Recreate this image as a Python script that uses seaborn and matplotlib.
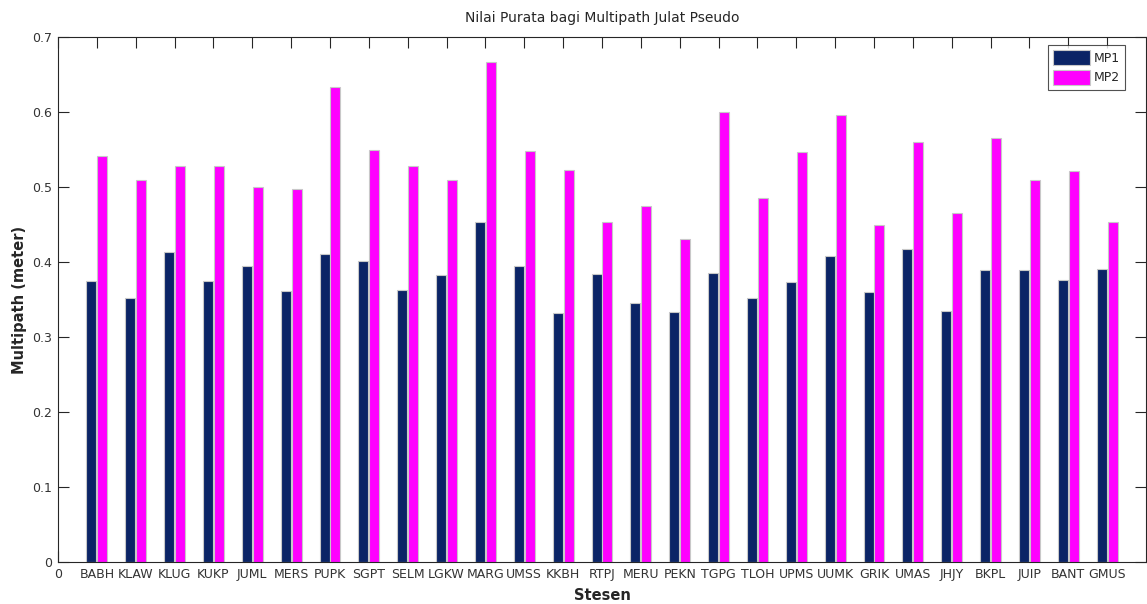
import pandas as pd
import matplotlib
matplotlib.use("Agg")
import matplotlib.pyplot as plt
import seaborn as sns

stations = ["BABH", "KLAW", "KLUG", "KUKP", "JUML", "MERS", "PUPK", "SGPT", "SELM",
            "LGKW", "MARG", "UMSS", "KKBH", "RTPJ", "MERU", "PEKN", "TGPG", "TLOH",
            "UPMS", "UUMK", "GRIK", "UMAS", "JHJY", "BKPL", "JUIP", "BANT", "GMUS"]
mp1 = [0.375, 0.352, 0.414, 0.375, 0.395, 0.361, 0.411, 0.401, 0.363,
       0.383, 0.453, 0.395, 0.332, 0.384, 0.346, 0.333, 0.386, 0.352,
       0.373, 0.408, 0.360, 0.418, 0.335, 0.389, 0.389, 0.376, 0.391]
mp2 = [0.542, 0.509, 0.528, 0.528, 0.500, 0.498, 0.633, 0.549, 0.528,
       0.510, 0.667, 0.548, 0.523, 0.453, 0.475, 0.431, 0.600, 0.485,
       0.546, 0.596, 0.450, 0.560, 0.466, 0.566, 0.509, 0.521, 0.453]

pos = list(range(1, len(stations) + 1))
df = pd.DataFrame({
    "pos": pos * 2,
    "value": mp1 + mp2,
    "series": ["MP1"] * len(mp1) + ["MP2"] * len(mp2),
})

sns.set_style("white")
plt.rcParams["font.family"] = ["DejaVu Sans"]

fig = plt.figure(figsize=(11.47, 6.04), dpi=100)
ax = fig.add_axes([58 / 1147, 1 - 562 / 604, 1088 / 1147, 525 / 604])

sns.barplot(data=df, x="pos", y="value", hue="series", native_scale=True,
            palette={"MP1": "#0b2466", "MP2": "#ff00ff"}, saturation=1,
            width=0.56, gap=0.08, edgecolor="#c8c8c8", linewidth=0.8, ax=ax)

ax.set_xlim(0, 28)
ax.set_ylim(0, 0.7)
ax.set_xticks([0] + pos)
ax.set_xticklabels(["0"] + stations, fontsize=9, color="#333333")
ax.set_yticks([0, 0.1, 0.2, 0.3, 0.4, 0.5, 0.6, 0.7])
ax.set_yticklabels(["0", "0.1", "0.2", "0.3", "0.4", "0.5", "0.6", "0.7"],
                   fontsize=9, color="#333333")
ax.tick_params(direction="in", length=8, width=0.8, top=True, right=True,
               bottom=True, left=True, color="#262626", pad=4)
for s in ax.spines.values():
    s.set_visible(True)
    s.set_color("#262626")
    s.set_linewidth(0.8)

ax.set_title("Nilai Purata bagi Multipath Julat Pseudo", fontsize=10, pad=11)
ax.set_xlabel("Stesen", fontsize=10.5, fontweight="bold", labelpad=5)
ax.set_ylabel("Multipath (meter)", fontsize=10.5, fontweight="bold", labelpad=4)

leg = ax.legend(loc="upper right", bbox_to_anchor=(0.981, 0.985), fontsize=9,
                frameon=True, fancybox=False, edgecolor="#262626",
                handlelength=3.0, handleheight=1.5, borderpad=0.4,
                labelspacing=0.35, handletextpad=0.3, borderaxespad=0)
leg.get_frame().set_linewidth(0.8)

fig.savefig("out.png", dpi=100)
